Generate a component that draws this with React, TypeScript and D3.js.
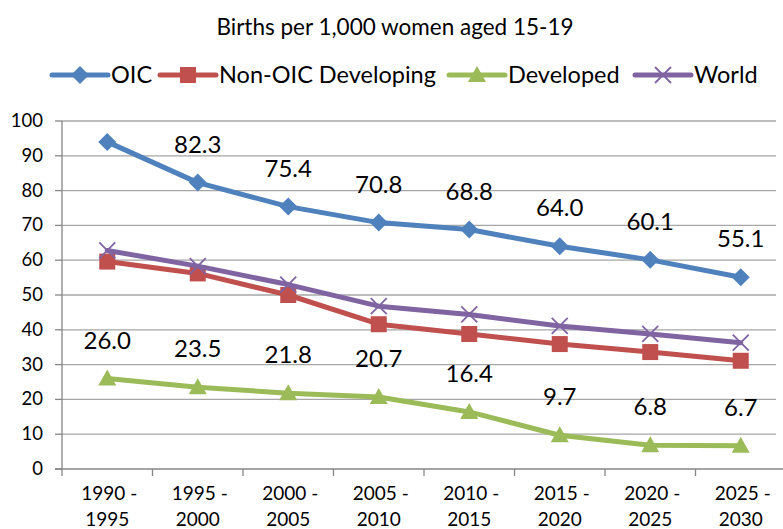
import React, { useRef, useEffect } from "react";
import * as d3 from "d3";

const periods = [
  ["1990 -", "1995"],
  ["1995 -", "2000"],
  ["2000 -", "2005"],
  ["2005 -", "2010"],
  ["2010 -", "2015"],
  ["2015 -", "2020"],
  ["2020 -", "2025"],
  ["2025 -", "2030"],
];
const oic = [94.0, 82.3, 75.4, 70.8, 68.8, 64.0, 60.1, 55.1];
const nonOic = [59.6, 56.2, 50.0, 41.6, 38.8, 35.9, 33.6, 31.1];
const developed = [26.0, 23.5, 21.8, 20.7, 16.4, 9.7, 6.8, 6.7];
const world = [62.8, 58.3, 53.0, 46.8, 44.4, 41.1, 38.8, 36.3];
const yTicks = [0, 10, 20, 30, 40, 50, 60, 70, 80, 90, 100];

const FONT = "Lato, 'Open Sans', sans-serif";

const series = [
  { name: "OIC", values: oic, color: "#4F81BD", marker: "diamond", labels: true, skipFirst: true },
  { name: "Non-OIC Developing", values: nonOic, color: "#C0504D", marker: "square", labels: false, skipFirst: false },
  { name: "Developed", values: developed, color: "#9BBB59", marker: "triangle", labels: true, skipFirst: false },
  { name: "World", values: world, color: "#8064A2", marker: "x", labels: false, skipFirst: false },
];

const drawMarker = (g: any, type: string, x: number, y: number, color: string) => {
  if (type === "diamond") {
    g.append("path")
      .attr("d", `M${x},${y - 9}L${x + 9},${y}L${x},${y + 9}L${x - 9},${y}Z`)
      .attr("fill", color);
  } else if (type === "square") {
    g.append("rect")
      .attr("x", x - 8)
      .attr("y", y - 8)
      .attr("width", 16)
      .attr("height", 16)
      .attr("fill", color);
  } else if (type === "triangle") {
    g.append("path")
      .attr("d", `M${x},${y - 9}L${x + 9},${y + 7}L${x - 9},${y + 7}Z`)
      .attr("fill", color);
  } else {
    g.append("path")
      .attr("d", `M${x - 8},${y - 8}L${x + 8},${y + 8}M${x + 8},${y - 8}L${x - 8},${y + 8}`)
      .attr("stroke", color)
      .attr("stroke-width", 1.8)
      .attr("fill", "none");
  }
};

const App = () => {
  const ref = useRef<SVGSVGElement | null>(null);

  useEffect(() => {
    const svg = d3.select(ref.current);
    svg.selectAll("*").remove();

    const cats = periods.map((p) => p.join(" "));
    const x = d3.scaleBand().domain(cats).range([62, 786]);
    const y = d3.scaleLinear().domain([0, 100]).range([469, 121]);

    // title
    svg
      .append("text")
      .attr("x", 395)
      .attr("y", 35)
      .attr("text-anchor", "middle")
      .attr("font-family", FONT)
      .attr("font-size", 22.5)
      .text("Births per 1,000 women aged 15-19");

    // gridlines
    svg
      .append("g")
      .selectAll("line")
      .data(yTicks.filter((t) => t > 0))
      .join("line")
      .attr("x1", 62)
      .attr("x2", 776)
      .attr("y1", (d) => y(d))
      .attr("y2", (d) => y(d))
      .attr("stroke", "#A6A6A6")
      .attr("stroke-width", 1.3);

    // y axis
    const yAxis = svg.append("g");
    yAxis
      .append("line")
      .attr("x1", 62)
      .attr("x2", 62)
      .attr("y1", y(100))
      .attr("y2", y(0))
      .attr("stroke", "#868686")
      .attr("stroke-width", 1.3);
    yAxis
      .selectAll("line.tk")
      .data(yTicks)
      .join("line")
      .attr("class", "tk")
      .attr("x1", 55)
      .attr("x2", 62)
      .attr("y1", (d) => y(d))
      .attr("y2", (d) => y(d))
      .attr("stroke", "#868686")
      .attr("stroke-width", 1.3);
    yAxis
      .selectAll("text")
      .data(yTicks)
      .join("text")
      .attr("x", 43)
      .attr("y", (d) => y(d) + 6)
      .attr("text-anchor", "end")
      .attr("font-family", FONT)
      .attr("font-size", 18.5)
      .text((d) => d);

    // x axis
    const xAxis = svg.append("g");
    xAxis
      .append("line")
      .attr("x1", 55)
      .attr("x2", 786)
      .attr("y1", y(0))
      .attr("y2", y(0))
      .attr("stroke", "#868686")
      .attr("stroke-width", 1.3);
    xAxis
      .selectAll("line.tk")
      .data(cats)
      .join("line")
      .attr("class", "tk")
      .attr("x1", (d) => x(d)!)
      .attr("x2", (d) => x(d)!)
      .attr("y1", y(0))
      .attr("y2", y(0) + 7)
      .attr("stroke", "#868686")
      .attr("stroke-width", 1.3);
    periods.forEach((p, i) => {
      const cx = x(cats[i])! + x.bandwidth() / 2;
      p.forEach((line, j) => {
        xAxis
          .append("text")
          .attr("x", cx + (j === 0 ? 2 : 0))
          .attr("y", 500 + j * 26)
          .attr("text-anchor", "middle")
          .attr("font-family", FONT)
          .attr("font-size", 19)
          .text(line);
      });
    });

    // series
    const lineGen = d3
      .line<number>()
      .x((_, i) => x(cats[i])! + x.bandwidth() / 2)
      .y((d) => y(d));

    series.forEach((s) => {
      const g = svg.append("g");
      g.append("path")
        .attr("d", lineGen(s.values))
        .attr("fill", "none")
        .attr("stroke", s.color)
        .attr("stroke-width", 5)
        .attr("stroke-linejoin", "round")
        .attr("stroke-linecap", "round");
      s.values.forEach((v, i) => {
        drawMarker(g, s.marker, x(cats[i])! + x.bandwidth() / 2, y(v), s.color);
      });
    });

    // data labels
    series
      .filter((s) => s.labels)
      .forEach((s) => {
        svg
          .append("g")
          .selectAll("text")
          .data(s.values.map((v, i) => ({ v, i })).filter((d) => !(s.skipFirst && d.i === 0)))
          .join("text")
          .attr("x", (d) => x(cats[d.i])! + x.bandwidth() / 2)
          .attr("y", (d) => y(d.v) - 30)
          .attr("text-anchor", "middle")
          .attr("font-family", FONT)
          .attr("font-size", 24)
          .text((d) => d.v.toFixed(1));
      });

    // legend
    const legendX = [52, 160, 449, 635];
    series.forEach((s, i) => {
      const g = svg.append("g");
      const lx = legendX[i];
      const ly = 75;
      g.append("line")
        .attr("x1", lx)
        .attr("x2", lx + 56)
        .attr("y1", ly)
        .attr("y2", ly)
        .attr("stroke", s.color)
        .attr("stroke-width", 5)
        .attr("stroke-linecap", "round");
      drawMarker(g, s.marker, lx + 28, ly, s.color);
      g.append("text")
        .attr("x", lx + 59)
        .attr("y", ly + 8)
        .attr("font-family", FONT)
        .attr("font-size", 23.5)
        .text(s.name);
    });
  }, []);

  return (
    <svg
      ref={ref}
      width={783}
      height={529}
      style={{ position: "absolute", left: 0, top: 0, background: "#fff" }}
    />
  );
};

export default App;
